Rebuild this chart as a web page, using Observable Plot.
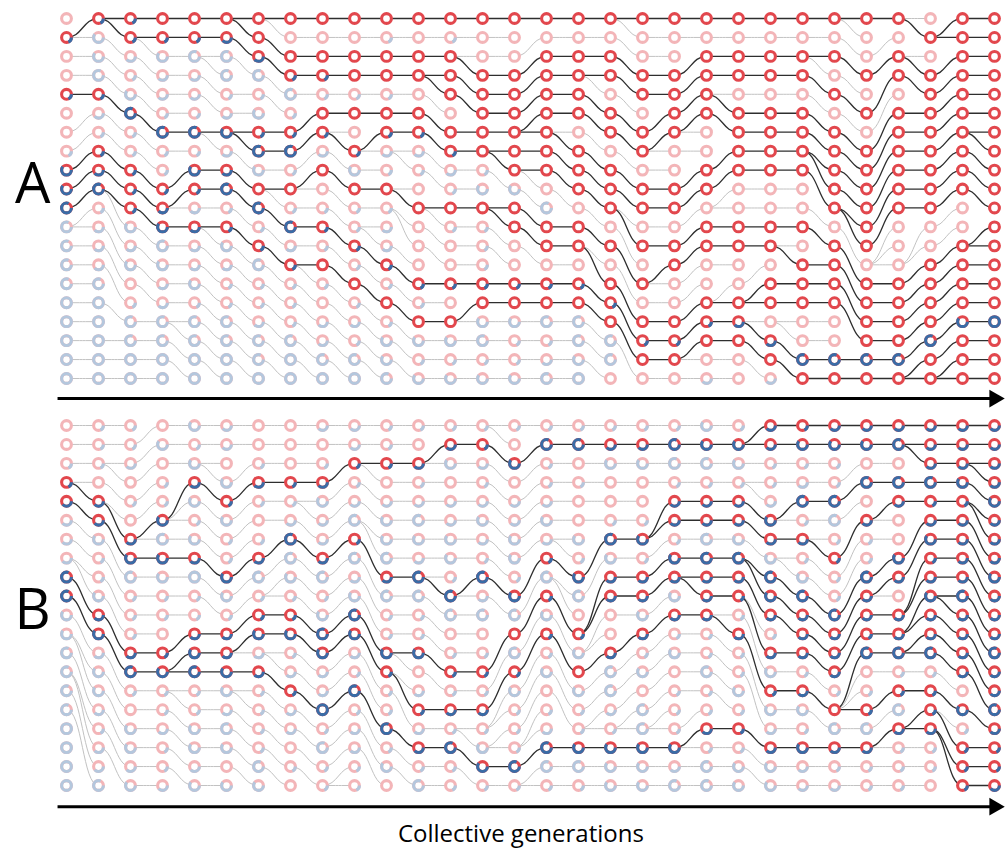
<!DOCTYPE html>
<html><head><meta charset="utf-8">
<script src="https://cdn.jsdelivr.net/npm/d3@7"></script>
<script src="https://cdn.jsdelivr.net/npm/@observablehq/plot@0.6"></script>
<style>body{margin:0;background:#fff;}</style>
</head><body><div id="chart"></div>
<script>
// ---------------- DATA ----------------
const generations = d3.range(30);          // collective generations 0..29
const nRows = 20;                          // collectives per generation
const panelLabels = ["A", "B"];
const axisLabel = "Collective generations";

// parent row (in previous generation) of each of the 20 collectives, generations 1..29
const parentsA = [
[1,1,2,3,4,6,7,8,9,10,11,11,12,13,14,15,16,17,18,19],
[0,0,1,2,3,4,5,6,7,8,9,9,10,11,12,13,15,17,18,19],
[0,1,1,2,3,4,5,6,7,8,9,10,11,12,13,14,16,17,18,19],
[0,1,2,3,4,5,6,7,9,10,10,11,12,13,14,15,16,16,17,18],
[0,1,2,2,3,4,6,6,8,9,10,11,11,12,13,14,15,16,17,18],
[0,0,1,2,4,5,6,6,7,8,9,10,11,12,13,14,15,16,17,18],
[0,0,1,2,3,4,6,7,8,9,9,10,11,12,13,14,15,16,17,18],
[0,1,2,3,4,6,7,8,9,9,10,11,12,13,13,14,15,16,17,18],
[0,1,2,3,4,5,6,6,7,8,9,10,11,12,13,14,15,16,17,18],
[0,1,2,3,4,5,7,7,8,9,10,11,11,12,13,14,15,16,17,18],
[0,1,2,3,4,5,6,7,7,9,9,10,10,12,13,14,15,16,17,18],
[0,1,2,3,3,4,5,6,7,8,10,10,11,12,14,15,16,17,18,19],
[0,1,2,2,3,4,6,7,8,9,10,11,12,13,14,16,16,17,18,19],
[0,1,2,3,4,5,6,7,7,8,10,10,11,12,14,15,16,17,18,19],
[0,2,3,4,5,6,6,7,8,8,9,10,11,12,14,15,16,17,18,19],
[0,1,2,3,4,5,6,6,7,8,9,11,12,13,14,15,16,17,18,19],
[0,1,2,3,3,4,5,6,7,8,9,10,11,12,12,14,15,16,17,18],
[0,0,1,2,3,4,5,6,7,8,9,10,10,11,12,13,14,15,16,17],
[0,1,2,3,4,6,7,7,8,9,10,11,12,14,14,15,16,17,18,19],
[0,1,3,4,5,6,6,7,9,10,11,12,13,14,15,16,17,18,18,19],
[0,1,2,3,4,4,5,8,9,10,10,11,12,13,15,15,16,17,18,19],
[0,1,2,3,4,5,6,7,8,9,10,11,12,14,15,15,16,16,17,18],
[0,1,2,3,4,5,6,7,8,9,10,11,12,12,14,15,16,16,17,18],
[0,1,2,2,3,4,5,6,7,7,8,10,11,13,14,15,16,17,18,19],
[0,0,1,2,3,4,5,6,7,8,9,10,10,11,12,13,14,15,18,19],
[0,2,3,5,6,7,8,9,10,11,12,13,13,13,14,15,16,17,18,19],
[0,0,2,2,3,5,6,7,8,9,10,13,13,14,15,16,17,18,19,19],
[1,1,3,4,5,6,7,8,9,10,11,12,13,14,15,16,17,18,19,19],
[0,1,2,3,4,5,6,6,7,8,9,12,12,13,14,15,16,17,18,19]
];
// blue share of each collective (0 = all red ... 5 = all blue), generations 0..29
const blueA = [
"01001001334444455555","13341211241222455555","11213411111323014455","01322141112343224455",
"01422141312222314455","02441232241132114455","00241314304114112445","00014114101421111455",
"00011012001110102245","00001001301111012145","01001012101221101334","00000012100000110313",
"01000001210100100313","00000000130111103413","00000000030000103113","00000000004000104124",
"00000000000000104435","00000000000000010440","00000000000000000100","00000000000000000100",
"00000000000000001002","00000000000000002000","00000000000000000202","00000000000000000040",
"00000000000000000040","00000000000000000040","00000000000000000040","00000000000000000400",
"00000000000000003000","00000000000000005000"
];
const parentsB = [
[0,1,2,3,3,4,5,6,7,7,8,9,10,11,11,12,13,13,14,15],
[0,1,2,2,3,4,4,5,6,7,8,9,10,11,12,13,14,15,16,17],
[1,2,3,4,5,6,6,7,8,9,10,11,12,13,14,15,16,17,18,19],
[0,1,2,5,5,5,6,7,8,9,10,12,13,13,14,14,15,16,17,18],
[0,1,2,2,3,4,5,6,7,8,9,11,12,13,14,15,16,17,18,19],
[0,1,3,4,5,6,7,8,9,10,11,12,12,13,14,14,15,16,17,18],
[0,1,2,3,4,5,7,8,9,9,10,11,12,12,13,14,15,16,17,18],
[0,1,2,3,4,4,5,6,7,8,9,10,11,12,13,14,15,16,17,18],
[0,1,3,4,5,6,7,8,9,10,11,12,13,14,15,16,17,18,19,19],
[0,1,2,2,3,4,5,5,6,7,8,9,10,11,12,13,14,15,16,17],
[0,1,2,3,4,5,6,7,8,9,10,11,12,12,13,13,14,16,17,18],
[0,2,2,3,4,5,6,7,8,8,9,10,11,12,13,15,16,17,18,19],
[0,1,2,3,4,5,6,7,9,9,10,11,12,13,14,15,16,16,17,18],
[0,0,1,2,3,4,5,6,7,8,9,13,14,15,16,16,17,17,18,19],
[0,2,3,4,5,6,7,9,10,11,12,13,14,15,16,17,17,18,19,19],
[0,1,2,3,4,5,6,6,7,8,8,9,10,11,12,13,14,17,18,19],
[0,1,2,3,4,5,8,9,11,11,12,12,13,14,15,16,16,17,18,19],
[0,1,2,3,4,5,6,7,8,9,10,12,13,14,15,16,16,17,18,19],
[0,1,2,3,6,6,7,8,9,10,11,12,13,14,15,16,16,17,18,19],
[0,1,2,3,4,5,6,7,8,8,10,11,12,13,14,16,17,17,18,19],
[0,1,2,3,4,5,6,7,8,9,10,10,11,12,13,14,16,17,18,19],
[1,1,2,3,3,4,5,6,7,7,8,9,9,10,11,12,13,16,17,18],
[0,1,2,3,5,5,6,7,7,8,9,10,12,13,14,15,16,17,18,19],
[0,1,2,3,4,5,6,6,7,8,9,10,11,12,13,14,15,17,18,19],
[0,1,3,4,5,7,8,9,10,11,12,13,15,15,15,15,16,17,18,19],
[0,1,2,3,5,5,6,8,9,9,10,11,12,13,15,16,17,17,18,19],
[0,1,1,3,4,7,8,10,10,11,11,12,12,13,14,16,16,17,18,19],
[0,1,2,3,4,5,6,7,8,9,9,10,11,12,13,14,15,15,16,16],
[0,1,2,2,3,4,4,5,6,7,8,9,10,11,12,13,15,17,18,19]
];
const blueB = [
"00112222443344445555","11102231132323321224","11201023411124103323","03011343311013112112",
"31323132511234113323","22031311331223324303","00121012411322111143","00011244311312122010",
"20123222413432251411","22112414234321412211","11102334241131114130","10212432441130212214",
"12302233144011121411","11212321424011121331","10302233134041311141","14112321413113012441",
"14010031340130311341","12300143220024421333","12300131223213044333","14412213232130111324",
"33412244222114112144","13312234211211311133","22112323432123132233","13124121342221231322",
"23114411114222104212","23040211422140114211","24042003202241142111","22241231232241112110",
"22231222242222031111","22223222322242242112"
];

// ---------------- BUILD ----------------
const offsetB = 21.48;
function build(parents, blue, panel, offset) {
  const n = blue.length;
  const bold = blue.map(() => new Array(nRows).fill(false));
  bold[n - 1].fill(true);
  for (let c = n - 1; c >= 1; c--)
    for (let r = 0; r < nRows; r++)
      if (bold[c][r]) bold[c - 1][parents[c - 1][r]] = true;
  const nodes = [], links = [];
  for (let c = 0; c < n; c++)
    for (let r = 0; r < nRows; r++) {
      nodes.push({panel, gen: generations[c], row: r + offset, level: +blue[c][r], bold: bold[c][r]});
      if (c > 0) links.push({panel, x1: c - 1, y1: parents[c - 1][r] + offset, x2: c, y2: r + offset, bold: bold[c][r]});
    }
  return {nodes, links};
}
const A = build(parentsA, blueA, "A", 0);
const B = build(parentsB, blueB, "B", offsetB);
const nodes = A.nodes.concat(B.nodes);
const links = A.links.concat(B.links);

const RED = "#e2474d", BLUE = "#3a6ca6";
const mix = (c, t) => d3.interpolateRgb("#ffffff", c)(t);
const PRED = mix(RED, 0.4), PBLUE = mix(BLUE, 0.38);
const R = 4.9, SW = 3.1, C = 2 * Math.PI * R;
const frac = [0, 0.18, 0.38, 0.6, 0.8, 1];

const marks = [
  Plot.link(links.filter(d => !d.bold), {x1: "x1", y1: "y1", x2: "x2", y2: "y2", curve: "bump-x", stroke: "#c2c2c2", strokeWidth: 1}),
  Plot.link(links.filter(d => d.bold), {x1: "x1", y1: "y1", x2: "x2", y2: "y2", curve: "bump-x", stroke: "#2e2e2e", strokeWidth: 1.3})
];
for (const b of [false, true]) {
  const sub = nodes.filter(d => d.bold === b);
  marks.push(Plot.dot(sub, {x: "gen", y: "row", r: R, fill: "white", stroke: b ? RED : PRED, strokeWidth: SW}));
  for (let k = 1; k <= 5; k++) {
    const s = sub.filter(d => d.level === k);
    if (!s.length) continue;
    const opts = {x: "gen", y: "row", r: R, fill: "none", stroke: b ? BLUE : PBLUE, strokeWidth: SW};
    if (k < 5) opts.strokeDasharray = `${(frac[k] * C).toFixed(2)} ${C.toFixed(2)}`;
    marks.push(Plot.dot(s, opts));
  }
}
// time arrows
const arrows = [{y: 20.06}, {y: 41.6}];
marks.push(Plot.link(arrows, {x1: -0.28, x2: 28.9, y1: "y", y2: "y", stroke: "black", strokeWidth: 3}));
marks.push(Plot.dot(arrows, {x: 29.0, y: "y", symbol: "triangle", r: 6.6, rotate: 90, fill: "black"}));
// labels
marks.push(Plot.text([{t: panelLabels[0], y: 8.8}, {t: panelLabels[1], y: 31.25}], {x: -1.06, y: "y", text: "t", fontSize: 56, fill: "black", textAnchor: "middle", lineAnchor: "middle"}));
marks.push(Plot.text([axisLabel], {x: 14.2, y: 43.05, text: d => d, fontSize: 24, fill: "black", textAnchor: "middle", lineAnchor: "middle"}));

const chart = Plot.plot({
  width: 1006, height: 854,
  x: {domain: [0, 29], range: [66, 994], axis: null},
  y: {domain: [0, 19], range: [18, 378], axis: null},
  style: {fontFamily: "'Open Sans', 'DejaVu Sans', sans-serif", background: "white", overflow: "visible"},
  marks
});
document.getElementById("chart").appendChild(chart);
</script>
</body></html>
